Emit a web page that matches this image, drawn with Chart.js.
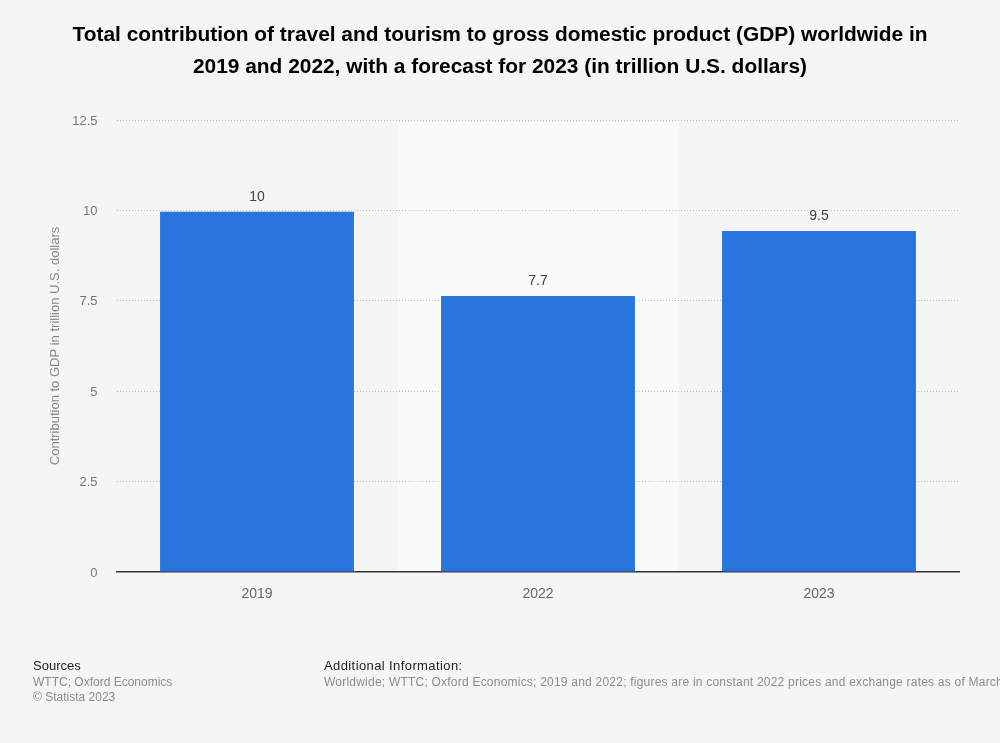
<!DOCTYPE html>
<html><head><meta charset="utf-8">
<script src="https://cdn.jsdelivr.net/npm/chart.js@4/dist/chart.umd.min.js"></script>
<style>
html,body{margin:0;padding:0;background:#f5f5f5;width:1000px;height:743px;overflow:hidden;font-family:"Liberation Sans",Arial,sans-serif}
#wrap{position:absolute;left:0;top:0;width:1000px;height:743px}
.t{position:absolute;white-space:nowrap}
#title{left:0;width:1000px;top:18px;text-align:center;font-size:20.9px;font-weight:bold;line-height:32px;color:#000;white-space:normal}
.h{font-size:13px;color:#222}
.g{font-size:12px;color:#8c8c8c}
</style></head><body>
<div id="wrap"><canvas id="c" width="1000" height="743"></canvas></div>
<div class="t" id="title">Total contribution of travel and tourism to gross domestic product (GDP) worldwide in<br>2019 and 2022, with a forecast for 2023 (in trillion U.S. dollars)</div>
<div class="t h" style="left:33px;top:658px">Sources</div>
<div class="t g" style="left:33px;top:675px">WTTC; Oxford Economics</div>
<div class="t g" style="left:33px;top:690px">© Statista 2023</div>
<div class="t h" style="left:324px;top:658px;letter-spacing:.4px">Additional Information:</div>
<div class="t g" style="left:324px;top:675px;letter-spacing:.22px">Worldwide; WTTC; Oxford Economics; 2019 and 2022; figures are in constant 2022 prices and exchange rates as of March 2023.</div>
<script>
const categories = ["2019","2022","2023"];
const contribution = [9.96, 7.63, 9.43];
const valueLabels = ["10","7.7","9.5"];
const yTicks = [0,2.5,5,7.5,10,12.5];
const yTitle = "Contribution to GDP in trillion U.S. dollars";
const highlighted = "2022";
const FONT = '"Liberation Sans",Arial,sans-serif';

const band = {id:'band',beforeDraw(ch){
  const x=ch.scales.x,a=ch.chartArea,i=categories.indexOf(highlighted);
  const w=x.getPixelForValue(1)-x.getPixelForValue(0),cx=x.getPixelForValue(i);
  ch.ctx.save();ch.ctx.fillStyle='#fafafa';ch.ctx.fillRect(cx-w/2,a.top,w,a.bottom-a.top);ch.ctx.restore();
}};
const labels = {id:'labels',afterDatasetsDraw(ch){
  const c=ch.ctx,m=ch.getDatasetMeta(0);
  c.save();c.font='14px '+FONT;c.textAlign='center';c.textBaseline='middle';c.lineJoin='round';
  m.data.forEach((b,i)=>{const y=b.y-14.5;
    c.strokeStyle='#f5f5f5';c.lineWidth=3;c.strokeText(valueLabels[i],b.x,y);
    c.fillStyle='#444';c.fillText(valueLabels[i],b.x,y);});
  c.restore();
}};
Chart.defaults.font.family=FONT;
new Chart(document.getElementById('c'),{
  type:'bar',
  data:{labels:categories,datasets:[{data:contribution,backgroundColor:'#2975de',borderWidth:0,categoryPercentage:1,barPercentage:0.69}]},
  plugins:[band,labels],
  options:{
    responsive:false,animation:false,devicePixelRatio:1,
    layout:{padding:{left:47.5,right:40.5,top:120,bottom:141}},
    plugins:{legend:{display:false},tooltip:{enabled:false},title:{display:false}},
    scales:{
      x:{grid:{display:false,drawTicks:false},border:{color:'#333',width:1.5},
         ticks:{color:'#666',font:{size:14},padding:14},afterFit:s=>{s.height=30}},
      y:{min:0,max:12.5,afterBuildTicks:s=>{s.ticks=yTicks.map(v=>({value:v}))},
         afterFit:s=>{s.width=69},
         grid:{color:c=>c.tick&&c.tick.value===0?'rgba(0,0,0,0)':'#bdbdbd',lineWidth:1,drawTicks:false},
         border:{display:false,dash:[1,2]},
         ticks:{color:'#777',font:{size:13},padding:19,labelOffset:1,callback:v=>String(v)},
         title:{display:true,text:yTitle,color:'#888',font:{size:13},padding:{top:0,bottom:0}}}
    }
  }
});
</script>
</body></html>
